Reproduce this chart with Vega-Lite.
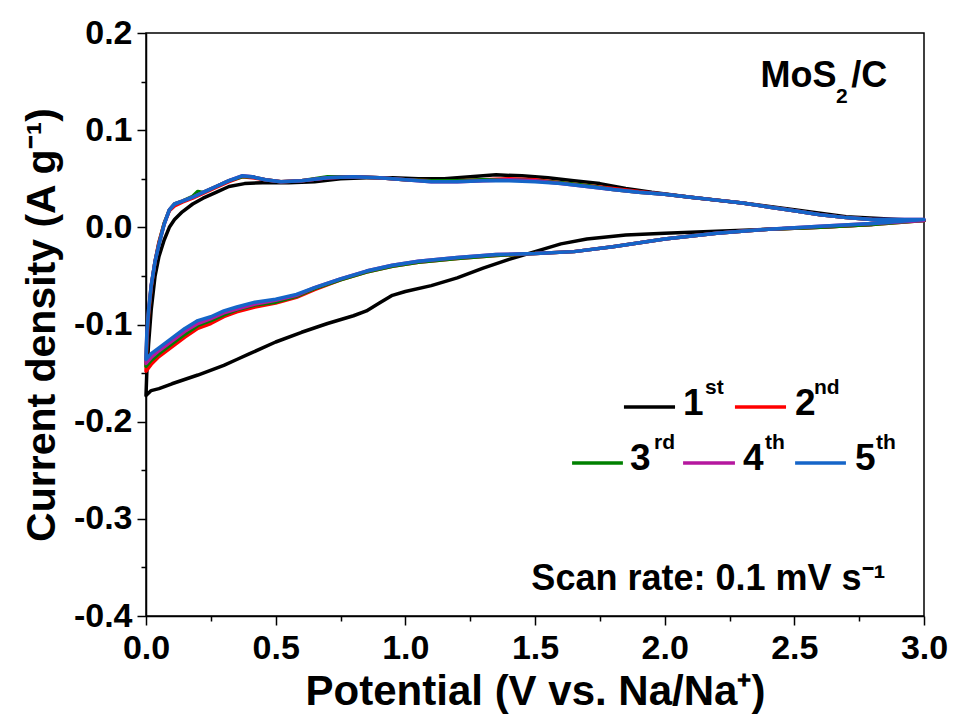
{
  "$schema": "https://vega.github.io/schema/vega-lite/v6.json",
  "width": 778,
  "height": 583,
  "autosize": {"type": "none"},
  "padding": {"left": 146, "top": 33, "right": 30, "bottom": 99},
  "background": "white",
  "config": {
    "font": "Liberation Sans",
    "view": {"stroke": "#000000", "strokeWidth": 1.5},
    "axis": {
      "domainColor": "#000000", "domainWidth": 1.5, "tickColor": "#000000", "tickWidth": 1.5,
      "labelColor": "#000000", "titleColor": "#000000", "labelFont": "Liberation Sans", "titleFont": "Liberation Sans",
      "labelFontWeight": "bold", "titleFontWeight": "bold", "labelFontSize": 34, "titleFontSize": 41, "grid": false
    }
  },
  "datasets": {
    "cv": [
      {"c":"1st","v":2.8,"j":0.003},{"c":"1st","v":2.6,"j":0.0},{"c":"1st","v":2.4,"j":-0.002},{"c":"1st","v":2.2,"j":-0.004},{"c":"1st","v":2.0,"j":-0.006},{"c":"1st","v":1.85,"j":-0.008},{"c":"1st","v":1.7,"j":-0.012},{"c":"1st","v":1.6,"j":-0.017},{"c":"1st","v":1.5,"j":-0.025},{"c":"1st","v":1.4,"j":-0.033},{"c":"1st","v":1.3,"j":-0.042},{"c":"1st","v":1.2,"j":-0.052},{"c":"1st","v":1.1,"j":-0.06},{"c":"1st","v":1.0,"j":-0.066},{"c":"1st","v":0.95,"j":-0.07},{"c":"1st","v":0.9,"j":-0.078},{"c":"1st","v":0.85,"j":-0.086},{"c":"1st","v":0.8,"j":-0.091},{"c":"1st","v":0.7,"j":-0.099},{"c":"1st","v":0.6,"j":-0.108},{"c":"1st","v":0.5,"j":-0.118},{"c":"1st","v":0.4,"j":-0.13},{"c":"1st","v":0.35,"j":-0.136},{"c":"1st","v":0.3,"j":-0.142},{"c":"1st","v":0.2,"j":-0.152},{"c":"1st","v":0.1,"j":-0.161},{"c":"1st","v":0.05,"j":-0.166},{"c":"1st","v":0.02,"j":-0.168},{"c":"1st","v":0.0,"j":-0.173},
      {"c":"1st","v":0.003,"j":-0.15},{"c":"1st","v":0.01,"j":-0.12},{"c":"1st","v":0.02,"j":-0.085},{"c":"1st","v":0.035,"j":-0.05},{"c":"1st","v":0.05,"j":-0.03},{"c":"1st","v":0.07,"j":-0.013},{"c":"1st","v":0.09,"j":0.0},{"c":"1st","v":0.11,"j":0.008},{"c":"1st","v":0.14,"j":0.016},{"c":"1st","v":0.18,"j":0.024},{"c":"1st","v":0.22,"j":0.03},{"c":"1st","v":0.27,"j":0.036},{"c":"1st","v":0.32,"j":0.042},{"c":"1st","v":0.38,"j":0.045},{"c":"1st","v":0.45,"j":0.046},{"c":"1st","v":0.55,"j":0.046},{"c":"1st","v":0.65,"j":0.047},{"c":"1st","v":0.75,"j":0.05},{"c":"1st","v":0.85,"j":0.051},{"c":"1st","v":0.95,"j":0.051},{"c":"1st","v":1.05,"j":0.05},{"c":"1st","v":1.15,"j":0.05},{"c":"1st","v":1.25,"j":0.052},{"c":"1st","v":1.35,"j":0.054},{"c":"1st","v":1.45,"j":0.053},{"c":"1st","v":1.55,"j":0.051},{"c":"1st","v":1.65,"j":0.048},{"c":"1st","v":1.75,"j":0.045},{"c":"1st","v":1.85,"j":0.04},{"c":"1st","v":1.95,"j":0.036},{"c":"1st","v":2.1,"j":0.031},{"c":"1st","v":2.3,"j":0.025},{"c":"1st","v":2.5,"j":0.018},{"c":"1st","v":2.7,"j":0.011},{"c":"1st","v":2.9,"j":0.008},{"c":"1st","v":3.0,"j":0.007},

      {"c":"2nd","v":3.0,"j":0.007},{"c":"2nd","v":2.8,"j":0.003},{"c":"2nd","v":2.6,"j":0.0},{"c":"2nd","v":2.4,"j":-0.002},{"c":"2nd","v":2.2,"j":-0.006},{"c":"2nd","v":2.0,"j":-0.012},{"c":"2nd","v":1.8,"j":-0.02},{"c":"2nd","v":1.65,"j":-0.025},{"c":"2nd","v":1.5,"j":-0.027},{"c":"2nd","v":1.35,"j":-0.029},{"c":"2nd","v":1.2,"j":-0.032},{"c":"2nd","v":1.05,"j":-0.036},{"c":"2nd","v":0.95,"j":-0.04},{"c":"2nd","v":0.85,"j":-0.046},{"c":"2nd","v":0.75,"j":-0.054},{"c":"2nd","v":0.65,"j":-0.064},{"c":"2nd","v":0.58,"j":-0.072},{"c":"2nd","v":0.5,"j":-0.078},{"c":"2nd","v":0.42,"j":-0.082},{"c":"2nd","v":0.35,"j":-0.087},{"c":"2nd","v":0.3,"j":-0.092},{"c":"2nd","v":0.25,"j":-0.099},{"c":"2nd","v":0.2,"j":-0.104},{"c":"2nd","v":0.15,"j":-0.113},{"c":"2nd","v":0.1,"j":-0.123},{"c":"2nd","v":0.05,"j":-0.133},{"c":"2nd","v":0.02,"j":-0.141},{"c":"2nd","v":0.0,"j":-0.148},
      {"c":"2nd","v":0.003,"j":-0.12},{"c":"2nd","v":0.01,"j":-0.09},{"c":"2nd","v":0.02,"j":-0.062},{"c":"2nd","v":0.035,"j":-0.035},{"c":"2nd","v":0.05,"j":-0.015},{"c":"2nd","v":0.07,"j":0.004},{"c":"2nd","v":0.09,"j":0.017},{"c":"2nd","v":0.11,"j":0.022},{"c":"2nd","v":0.14,"j":0.026},{"c":"2nd","v":0.18,"j":0.03},{"c":"2nd","v":0.22,"j":0.035},{"c":"2nd","v":0.27,"j":0.041},{"c":"2nd","v":0.32,"j":0.047},{"c":"2nd","v":0.37,"j":0.052},{"c":"2nd","v":0.41,"j":0.051},{"c":"2nd","v":0.46,"j":0.049},{"c":"2nd","v":0.52,"j":0.047},{"c":"2nd","v":0.6,"j":0.048},{"c":"2nd","v":0.7,"j":0.051},{"c":"2nd","v":0.8,"j":0.052},{"c":"2nd","v":0.9,"j":0.051},{"c":"2nd","v":1.0,"j":0.049},{"c":"2nd","v":1.1,"j":0.048},{"c":"2nd","v":1.2,"j":0.048},{"c":"2nd","v":1.3,"j":0.049},{"c":"2nd","v":1.4,"j":0.05},{"c":"2nd","v":1.5,"j":0.049},{"c":"2nd","v":1.6,"j":0.046},{"c":"2nd","v":1.7,"j":0.043},{"c":"2nd","v":1.8,"j":0.04},{"c":"2nd","v":1.9,"j":0.037},{"c":"2nd","v":2.0,"j":0.034},{"c":"2nd","v":2.1,"j":0.031},{"c":"2nd","v":2.2,"j":0.028},{"c":"2nd","v":2.3,"j":0.025},{"c":"2nd","v":2.4,"j":0.021},{"c":"2nd","v":2.5,"j":0.017},{"c":"2nd","v":2.6,"j":0.013},{"c":"2nd","v":2.7,"j":0.01},{"c":"2nd","v":2.8,"j":0.008},{"c":"2nd","v":2.9,"j":0.007},{"c":"2nd","v":3.0,"j":0.007},

      {"c":"3rd","v":3.0,"j":0.007},{"c":"3rd","v":2.8,"j":0.003},{"c":"3rd","v":2.6,"j":0.0},{"c":"3rd","v":2.4,"j":-0.002},{"c":"3rd","v":2.2,"j":-0.006},{"c":"3rd","v":2.0,"j":-0.012},{"c":"3rd","v":1.8,"j":-0.02},{"c":"3rd","v":1.65,"j":-0.025},{"c":"3rd","v":1.5,"j":-0.027},{"c":"3rd","v":1.35,"j":-0.029},{"c":"3rd","v":1.2,"j":-0.032},{"c":"3rd","v":1.05,"j":-0.036},{"c":"3rd","v":0.95,"j":-0.04},{"c":"3rd","v":0.85,"j":-0.046},{"c":"3rd","v":0.75,"j":-0.054},{"c":"3rd","v":0.65,"j":-0.063},{"c":"3rd","v":0.58,"j":-0.071},{"c":"3rd","v":0.5,"j":-0.077},{"c":"3rd","v":0.42,"j":-0.08},{"c":"3rd","v":0.35,"j":-0.085},{"c":"3rd","v":0.3,"j":-0.09},{"c":"3rd","v":0.25,"j":-0.096},{"c":"3rd","v":0.2,"j":-0.101},{"c":"3rd","v":0.15,"j":-0.11},{"c":"3rd","v":0.1,"j":-0.12},{"c":"3rd","v":0.05,"j":-0.13},{"c":"3rd","v":0.02,"j":-0.137},{"c":"3rd","v":0.0,"j":-0.143},
      {"c":"3rd","v":0.003,"j":-0.115},{"c":"3rd","v":0.01,"j":-0.088},{"c":"3rd","v":0.02,"j":-0.061},{"c":"3rd","v":0.035,"j":-0.035},{"c":"3rd","v":0.05,"j":-0.016},{"c":"3rd","v":0.07,"j":0.004},{"c":"3rd","v":0.09,"j":0.018},{"c":"3rd","v":0.11,"j":0.024},{"c":"3rd","v":0.14,"j":0.027},{"c":"3rd","v":0.18,"j":0.032},{"c":"3rd","v":0.2,"j":0.037},{"c":"3rd","v":0.22,"j":0.036},{"c":"3rd","v":0.27,"j":0.042},{"c":"3rd","v":0.32,"j":0.048},{"c":"3rd","v":0.37,"j":0.052},{"c":"3rd","v":0.41,"j":0.052},{"c":"3rd","v":0.46,"j":0.049},{"c":"3rd","v":0.52,"j":0.047},{"c":"3rd","v":0.6,"j":0.048},{"c":"3rd","v":0.7,"j":0.052},{"c":"3rd","v":0.8,"j":0.052},{"c":"3rd","v":0.9,"j":0.051},{"c":"3rd","v":1.0,"j":0.049},{"c":"3rd","v":1.1,"j":0.048},{"c":"3rd","v":1.2,"j":0.048},{"c":"3rd","v":1.3,"j":0.049},{"c":"3rd","v":1.4,"j":0.049},{"c":"3rd","v":1.5,"j":0.048},{"c":"3rd","v":1.6,"j":0.046},{"c":"3rd","v":1.7,"j":0.043},{"c":"3rd","v":1.8,"j":0.039},{"c":"3rd","v":1.9,"j":0.036},{"c":"3rd","v":2.0,"j":0.034},{"c":"3rd","v":2.1,"j":0.031},{"c":"3rd","v":2.2,"j":0.028},{"c":"3rd","v":2.3,"j":0.025},{"c":"3rd","v":2.4,"j":0.021},{"c":"3rd","v":2.5,"j":0.017},{"c":"3rd","v":2.6,"j":0.013},{"c":"3rd","v":2.7,"j":0.01},{"c":"3rd","v":2.8,"j":0.008},{"c":"3rd","v":2.9,"j":0.007},{"c":"3rd","v":3.0,"j":0.007},

      {"c":"4th","v":3.0,"j":0.007},{"c":"4th","v":2.8,"j":0.004},{"c":"4th","v":2.6,"j":0.001},{"c":"4th","v":2.4,"j":-0.002},{"c":"4th","v":2.2,"j":-0.006},{"c":"4th","v":2.0,"j":-0.012},{"c":"4th","v":1.8,"j":-0.02},{"c":"4th","v":1.65,"j":-0.025},{"c":"4th","v":1.5,"j":-0.027},{"c":"4th","v":1.35,"j":-0.028},{"c":"4th","v":1.2,"j":-0.031},{"c":"4th","v":1.05,"j":-0.035},{"c":"4th","v":0.95,"j":-0.039},{"c":"4th","v":0.85,"j":-0.045},{"c":"4th","v":0.75,"j":-0.053},{"c":"4th","v":0.65,"j":-0.062},{"c":"4th","v":0.58,"j":-0.07},{"c":"4th","v":0.5,"j":-0.075},{"c":"4th","v":0.42,"j":-0.079},{"c":"4th","v":0.35,"j":-0.084},{"c":"4th","v":0.3,"j":-0.088},{"c":"4th","v":0.25,"j":-0.094},{"c":"4th","v":0.2,"j":-0.099},{"c":"4th","v":0.15,"j":-0.107},{"c":"4th","v":0.1,"j":-0.117},{"c":"4th","v":0.05,"j":-0.127},{"c":"4th","v":0.02,"j":-0.134},{"c":"4th","v":0.0,"j":-0.14},
      {"c":"4th","v":0.003,"j":-0.112},{"c":"4th","v":0.01,"j":-0.086},{"c":"4th","v":0.02,"j":-0.06},{"c":"4th","v":0.035,"j":-0.035},{"c":"4th","v":0.05,"j":-0.017},{"c":"4th","v":0.07,"j":0.003},{"c":"4th","v":0.09,"j":0.018},{"c":"4th","v":0.11,"j":0.024},{"c":"4th","v":0.14,"j":0.027},{"c":"4th","v":0.18,"j":0.031},{"c":"4th","v":0.22,"j":0.036},{"c":"4th","v":0.27,"j":0.042},{"c":"4th","v":0.32,"j":0.048},{"c":"4th","v":0.37,"j":0.053},{"c":"4th","v":0.41,"j":0.052},{"c":"4th","v":0.46,"j":0.049},{"c":"4th","v":0.52,"j":0.047},{"c":"4th","v":0.6,"j":0.048},{"c":"4th","v":0.7,"j":0.051},{"c":"4th","v":0.8,"j":0.052},{"c":"4th","v":0.9,"j":0.051},{"c":"4th","v":1.0,"j":0.049},{"c":"4th","v":1.1,"j":0.047},{"c":"4th","v":1.2,"j":0.047},{"c":"4th","v":1.3,"j":0.048},{"c":"4th","v":1.4,"j":0.049},{"c":"4th","v":1.5,"j":0.048},{"c":"4th","v":1.6,"j":0.045},{"c":"4th","v":1.7,"j":0.042},{"c":"4th","v":1.8,"j":0.039},{"c":"4th","v":1.9,"j":0.036},{"c":"4th","v":2.0,"j":0.034},{"c":"4th","v":2.1,"j":0.031},{"c":"4th","v":2.2,"j":0.028},{"c":"4th","v":2.3,"j":0.025},{"c":"4th","v":2.4,"j":0.021},{"c":"4th","v":2.5,"j":0.017},{"c":"4th","v":2.6,"j":0.013},{"c":"4th","v":2.7,"j":0.01},{"c":"4th","v":2.8,"j":0.008},{"c":"4th","v":2.9,"j":0.008},{"c":"4th","v":3.0,"j":0.008},

      {"c":"5th","v":3.0,"j":0.008},{"c":"5th","v":2.8,"j":0.004},{"c":"5th","v":2.6,"j":0.001},{"c":"5th","v":2.4,"j":-0.002},{"c":"5th","v":2.2,"j":-0.006},{"c":"5th","v":2.0,"j":-0.012},{"c":"5th","v":1.8,"j":-0.02},{"c":"5th","v":1.65,"j":-0.025},{"c":"5th","v":1.5,"j":-0.027},{"c":"5th","v":1.35,"j":-0.028},{"c":"5th","v":1.2,"j":-0.031},{"c":"5th","v":1.05,"j":-0.035},{"c":"5th","v":0.95,"j":-0.039},{"c":"5th","v":0.85,"j":-0.045},{"c":"5th","v":0.75,"j":-0.053},{"c":"5th","v":0.65,"j":-0.062},{"c":"5th","v":0.58,"j":-0.069},{"c":"5th","v":0.5,"j":-0.074},{"c":"5th","v":0.42,"j":-0.077},{"c":"5th","v":0.35,"j":-0.082},{"c":"5th","v":0.3,"j":-0.086},{"c":"5th","v":0.25,"j":-0.092},{"c":"5th","v":0.2,"j":-0.096},{"c":"5th","v":0.15,"j":-0.104},{"c":"5th","v":0.1,"j":-0.114},{"c":"5th","v":0.05,"j":-0.124},{"c":"5th","v":0.02,"j":-0.13},{"c":"5th","v":0.0,"j":-0.136},
      {"c":"5th","v":0.003,"j":-0.11},{"c":"5th","v":0.01,"j":-0.085},{"c":"5th","v":0.02,"j":-0.06},{"c":"5th","v":0.035,"j":-0.035},{"c":"5th","v":0.05,"j":-0.018},{"c":"5th","v":0.07,"j":0.003},{"c":"5th","v":0.09,"j":0.018},{"c":"5th","v":0.11,"j":0.024},{"c":"5th","v":0.14,"j":0.027},{"c":"5th","v":0.18,"j":0.031},{"c":"5th","v":0.22,"j":0.036},{"c":"5th","v":0.27,"j":0.042},{"c":"5th","v":0.32,"j":0.048},{"c":"5th","v":0.37,"j":0.053},{"c":"5th","v":0.41,"j":0.052},{"c":"5th","v":0.46,"j":0.049},{"c":"5th","v":0.52,"j":0.047},{"c":"5th","v":0.6,"j":0.048},{"c":"5th","v":0.7,"j":0.051},{"c":"5th","v":0.8,"j":0.052},{"c":"5th","v":0.9,"j":0.051},{"c":"5th","v":1.0,"j":0.049},{"c":"5th","v":1.1,"j":0.047},{"c":"5th","v":1.2,"j":0.047},{"c":"5th","v":1.3,"j":0.048},{"c":"5th","v":1.4,"j":0.048},{"c":"5th","v":1.5,"j":0.047},{"c":"5th","v":1.6,"j":0.045},{"c":"5th","v":1.7,"j":0.042},{"c":"5th","v":1.8,"j":0.039},{"c":"5th","v":1.9,"j":0.036},{"c":"5th","v":2.0,"j":0.034},{"c":"5th","v":2.1,"j":0.031},{"c":"5th","v":2.2,"j":0.028},{"c":"5th","v":2.3,"j":0.025},{"c":"5th","v":2.4,"j":0.021},{"c":"5th","v":2.5,"j":0.017},{"c":"5th","v":2.6,"j":0.013},{"c":"5th","v":2.7,"j":0.01},{"c":"5th","v":2.8,"j":0.008},{"c":"5th","v":2.9,"j":0.008},{"c":"5th","v":3.0,"j":0.008}
    ],
    "leg": [
      {"c":"1st","x1":1.843,"x2":2.04,"ly":-0.1849,"tx":2.071,"sx":2.156,"ty":-0.1931,"num":"1","sup":"st"},
      {"c":"2nd","x1":2.271,"x2":2.468,"ly":-0.1849,"tx":2.503,"sx":2.576,"ty":-0.1931,"num":"2","sup":"nd"},
      {"c":"3rd","x1":1.643,"x2":1.839,"ly":-0.2425,"tx":1.866,"sx":1.959,"ty":-0.2497,"num":"3","sup":"rd"},
      {"c":"4th","x1":2.071,"x2":2.271,"ly":-0.2425,"tx":2.302,"sx":2.387,"ty":-0.2497,"num":"4","sup":"th"},
      {"c":"5th","x1":2.503,"x2":2.699,"ly":-0.2425,"tx":2.734,"sx":2.815,"ty":-0.2497,"num":"5","sup":"th"}
    ],
    "ann": [
      {"t":"MoS","x":2.37,"y":0.1444},
      {"t":"/C","x":2.719,"y":0.1444},
      {"t":"Scan rate: 0.1 mV s⁻¹","x":1.486,"y":-0.3732}
    ],
    "sub": [
      {"t":"2","x":2.661,"y":0.128}
    ]
  },
  "layer": [
    {
      "data": {"name": "cv"},
      "mark": {"type": "line", "strokeWidth": 3.5, "strokeJoin": "round", "strokeCap": "round"},
      "encoding": {
        "x": {"field": "v", "type": "quantitative", "scale": {"domain": [0, 3], "nice": false, "zero": false},
          "axis": {"orient": "bottom", "values": [0, 0.5, 1, 1.5, 2, 2.5, 3], "labelExpr": "format(datum.value, '.1f')", "tickSize": 9, "labelPadding": 6, "labelFlush": false, "labelOverlap": false, "title": "Potential (V vs. Na/Na⁺)", "titleFontSize": 42, "titlePadding": 6}},
        "y": {"field": "j", "type": "quantitative", "scale": {"domain": [-0.4, 0.2], "nice": false, "zero": false},
          "axis": {"orient": "left", "values": [-0.4, -0.3, -0.2, -0.1, 0, 0.1, 0.2], "labelExpr": "datum.value < -0.001 ? '-' + format(-datum.value, '.1f') : format(abs(datum.value), '.1f')", "tickSize": 9, "labelPadding": 5, "labelFlush": false, "labelOverlap": false, "title": "Current density (A g⁻¹)", "titlePadding": 10}},
        "color": {"field": "c", "type": "nominal", "scale": {"domain": ["1st", "2nd", "3rd", "4th", "5th"], "range": ["#000000", "#ff0000", "#008000", "#b5179e", "#1565c8"]}, "legend": null},
        "order": {"value": null}
      }
    },
    {
      "data": {"name": "leg"},
      "mark": {"type": "rule", "strokeWidth": 3.5},
      "encoding": {
        "x": {"field": "x1", "type": "quantitative",
          "axis": {"orient": "bottom", "values": [0.25, 0.75, 1.25, 1.75, 2.25, 2.75], "labels": false, "tickSize": 5, "domain": false, "title": null}},
        "x2": {"field": "x2"},
        "y": {"field": "ly", "type": "quantitative",
          "axis": {"orient": "left", "values": [-0.35, -0.25, -0.15, -0.05, 0.05, 0.15], "labels": false, "tickSize": 5, "domain": false, "title": null}},
        "color": {"field": "c", "type": "nominal", "legend": null}
      }
    },
    {
      "data": {"name": "leg"},
      "mark": {"type": "text", "align": "left", "baseline": "alphabetic", "fontSize": 37, "fontWeight": "bold", "color": "#000000"},
      "encoding": {
        "x": {"field": "tx", "type": "quantitative", "axis": null},
        "y": {"field": "ty", "type": "quantitative", "axis": null},
        "text": {"field": "num"}
      }
    },
    {
      "data": {"name": "leg"},
      "mark": {"type": "text", "align": "left", "baseline": "alphabetic", "fontSize": 21, "fontWeight": "bold", "color": "#000000", "dy": -21},
      "encoding": {
        "x": {"field": "sx", "type": "quantitative", "axis": null},
        "y": {"field": "ty", "type": "quantitative", "axis": null},
        "text": {"field": "sup"}
      }
    },
    {
      "data": {"name": "ann"},
      "mark": {"type": "text", "align": "left", "baseline": "alphabetic", "fontSize": 36, "fontWeight": "bold", "color": "#000000"},
      "encoding": {
        "x": {"field": "x", "type": "quantitative", "axis": null},
        "y": {"field": "y", "type": "quantitative", "axis": null},
        "text": {"field": "t"}
      }
    },
    {
      "data": {"name": "sub"},
      "mark": {"type": "text", "align": "left", "baseline": "alphabetic", "fontSize": 21, "fontWeight": "bold", "color": "#000000"},
      "encoding": {
        "x": {"field": "x", "type": "quantitative", "axis": null},
        "y": {"field": "y", "type": "quantitative", "axis": null},
        "text": {"field": "t"}
      }
    }
  ],
  "resolve": {"axis": {"x": "independent", "y": "independent"}}
}
